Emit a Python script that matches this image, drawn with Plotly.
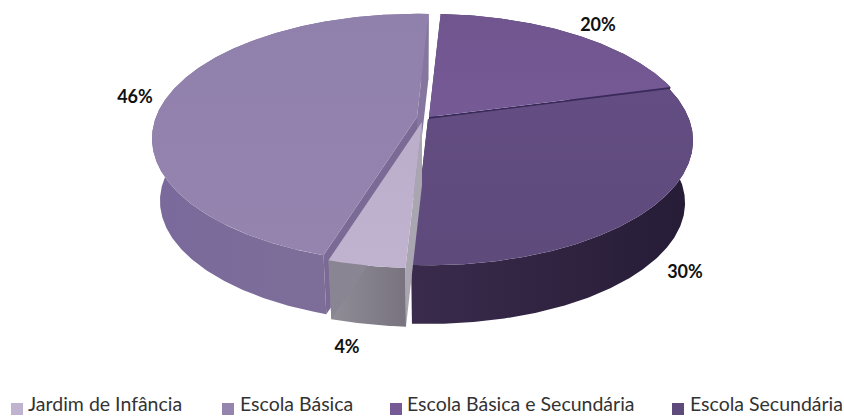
import math
import plotly.graph_objects as go

# ---- data
categories = ["Jardim de Infância", "Escola Básica", "Escola Básica e Secundária", "Escola Secundária"]
values = [4, 46, 20, 30]

# ---- styling
top_colors = ["#C0B3CF", "#9484AE", "#765A96", "#5F4A7C"]
top_colors2 = ["#BBAECB", "#9080AC", "#70558F", "#634D82"]
wall_left = ["#918E98", "#7A6A9C", "#3A2A5C", "#3A2B4C"]
wall_right = ["#78737F", "#7F7096", "#3A2A5C", "#261C36"]
face_start = ["#A9A5B1", "#7B6A96", "#3A2A5C", "#3A2B4C"]
face_end = ["#8A8592", "#85769F", "#3A2A5C", "#3A2B4C"]
apex_x = [422, 417, 429, 428]
apex_y = [122, 117, 117, 119]
legend_x = [17, 228, 396, 678]
legend_text_x = [28, 240, 407, 690]
label_x = [347, 135, 598, 685]
label_y = [348, 98, 26, 273]
START = 183.0
RX, RY, K = 261.0, 121.0, 0.173
LOW_SCALE, LOW_SHIFT = 0.97, 63.0


def project(theta, ax, ay, r=1.0):
    t = math.radians(theta)
    u, v = r * math.sin(t), r * math.cos(t)
    w = 1 + K * v
    return ax + RX * u / w, ay - RY * v / w


def poly(points, c0, c1, kind="horizontal"):
    xs = [p[0] for p in points] + [points[0][0]]
    ys = [p[1] for p in points] + [points[0][1]]
    return go.Scatter(
        x=xs, y=ys, mode="lines", fill="toself", line=dict(width=0),
        fillgradient=dict(type=kind, colorscale=[[0, c0], [1, c1]]),
        hoverinfo="skip", showlegend=False,
    )


spans = []
a = START
for val in values:
    b = a + val * 3.6
    spans.append((a, b))
    a = b

fig = go.Figure()
for i in [2, 3, 1, 0]:
    a, b = spans[i]
    ax, ay = apex_x[i], apex_y[i]
    n = max(int(b - a) * 2, 8)
    arc = [project(a + (b - a) * j / n, ax, ay) for j in range(n + 1)]
    low = [(ax + (x - ax) * LOW_SCALE, ay + (y - ay) * LOW_SCALE + LOW_SHIFT) for x, y in arc]
    apex = (ax, ay)
    apex_low = (ax, ay + LOW_SHIFT)
    fig.add_trace(poly(arc + low[::-1], wall_left[i], wall_right[i]))
    fig.add_trace(poly([apex, arc[-1], low[-1], apex_low], face_end[i], face_end[i]))
    fig.add_trace(poly([apex, arc[0], low[0], apex_low], face_start[i], face_start[i]))
    fig.add_trace(poly([apex] + arc, top_colors[i], top_colors2[i], "vertical"))

fig.add_trace(go.Scatter(
    x=label_x, y=label_y, mode="text", text=[f"{v}%" for v in values],
    textfont=dict(family="Lato", size=18, color="#111111", weight="bold"),
    hoverinfo="skip", showlegend=False,
))
fig.add_trace(go.Scatter(
    x=legend_x, y=[409] * 4, mode="markers",
    marker=dict(symbol="square", size=12, color=top_colors),
    hoverinfo="skip", showlegend=False, cliponaxis=False,
))
fig.add_trace(go.Scatter(
    x=legend_text_x, y=[406] * 4, mode="text", text=categories,
    textposition="middle right",
    textfont=dict(family="Lato", size=19.5, color="#333333"),
    hoverinfo="skip", showlegend=False, cliponaxis=False,
))

fig.update_layout(
    width=844, height=416, margin=dict(l=0, r=0, t=0, b=0),
    paper_bgcolor="white", plot_bgcolor="white", showlegend=False,
    xaxis=dict(range=[0, 844], visible=False, fixedrange=True),
    yaxis=dict(range=[416, 0], visible=False, fixedrange=True),
)
fig.write_html("out.html", config={"displayModeBar": False},
               post_script="document.body.style.margin='0';document.documentElement.style.overflow='hidden';")
